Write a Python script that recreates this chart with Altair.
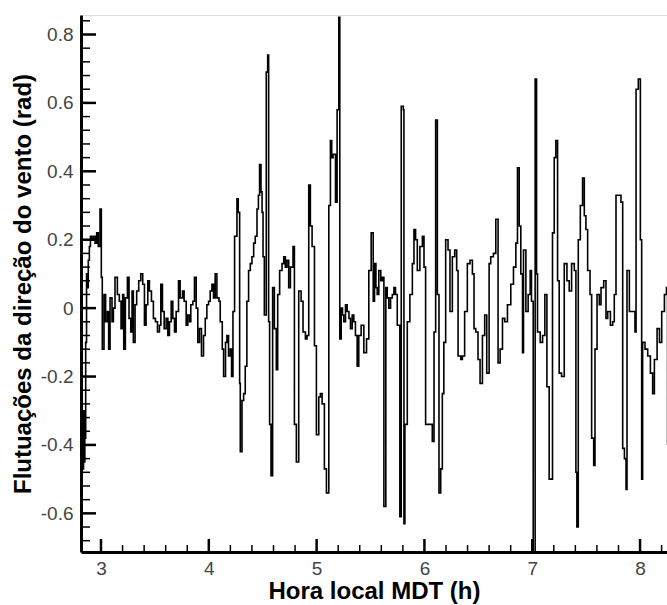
import altair as alt
import pandas as pd

# Time (local hour, MDT)
hora = [
    2.815, 2.820, 2.826, 2.832, 2.838, 2.844, 2.850, 2.858, 2.866, 2.874,
    2.882, 2.892, 2.902, 2.913, 2.929, 2.945, 2.960, 2.975, 2.991, 3.003,
    3.012, 3.028, 3.043, 3.059, 3.071, 3.084, 3.102, 3.115, 3.130, 3.152,
    3.170, 3.186, 3.201, 3.211, 3.226, 3.245, 3.260, 3.276, 3.288, 3.300,
    3.316, 3.331, 3.350, 3.369, 3.387, 3.403, 3.418, 3.434, 3.449, 3.468,
    3.486, 3.505, 3.524, 3.542, 3.555, 3.570, 3.586, 3.604, 3.620, 3.635,
    3.651, 3.666, 3.682, 3.697, 3.719, 3.734, 3.756, 3.771, 3.790, 3.805,
    3.821, 3.833, 3.852, 3.867, 3.883, 3.898, 3.914, 3.932, 3.951, 3.967,
    3.982, 3.998, 4.013, 4.029, 4.044, 4.059, 4.075, 4.094, 4.106, 4.125,
    4.137, 4.155, 4.168, 4.183, 4.199, 4.211, 4.224, 4.239, 4.261, 4.273,
    4.286, 4.292, 4.308, 4.323, 4.338, 4.353, 4.369, 4.385, 4.400, 4.416,
    4.431, 4.447, 4.460, 4.471, 4.484, 4.494, 4.503, 4.515, 4.533, 4.546,
    4.555, 4.564, 4.577, 4.592, 4.608, 4.626, 4.639, 4.657, 4.679, 4.695,
    4.710, 4.725, 4.741, 4.757, 4.781, 4.794, 4.812, 4.834, 4.856, 4.874,
    4.896, 4.911, 4.927, 4.942, 4.958, 4.980, 4.998, 5.020, 5.035, 5.051,
    5.072, 5.091, 5.113, 5.128, 5.140, 5.153, 5.175, 5.190, 5.206, 5.215,
    5.228, 5.240, 5.252, 5.268, 5.283, 5.300, 5.314, 5.330, 5.345, 5.360,
    5.376, 5.391, 5.413, 5.438, 5.463, 5.484, 5.506, 5.525, 5.537, 5.550,
    5.562, 5.577, 5.595, 5.609, 5.624, 5.642, 5.655, 5.670, 5.686, 5.702,
    5.717, 5.732, 5.748, 5.772, 5.785, 5.804, 5.810, 5.819, 5.841, 5.865,
    5.888, 5.903, 5.918, 5.934, 5.958, 5.981, 5.996, 6.011, 6.042, 6.073,
    6.089, 6.104, 6.120, 6.135, 6.151, 6.166, 6.180, 6.197, 6.219, 6.237,
    6.259, 6.281, 6.299, 6.312, 6.337, 6.352, 6.373, 6.398, 6.423, 6.445,
    6.460, 6.476, 6.497, 6.516, 6.538, 6.559, 6.578, 6.600, 6.615, 6.640,
    6.662, 6.683, 6.702, 6.724, 6.745, 6.770, 6.801, 6.826, 6.848, 6.863,
    6.879, 6.894, 6.910, 6.919, 6.941, 6.962, 6.981, 6.993, 7.009, 7.027,
    7.040, 7.049, 7.074, 7.096, 7.117, 7.136, 7.157, 7.173, 7.188, 7.204,
    7.219, 7.235, 7.250, 7.272, 7.297, 7.322, 7.343, 7.365, 7.390, 7.405,
    7.414, 7.427, 7.446, 7.467, 7.483, 7.498, 7.514, 7.536, 7.551, 7.570,
    7.582, 7.601, 7.622, 7.638, 7.663, 7.684, 7.700, 7.725, 7.746, 7.761,
    7.777, 7.799, 7.823, 7.839, 7.855, 7.870, 7.879, 7.901, 7.932, 7.953,
    7.963, 7.984, 8.003, 8.015, 8.024, 8.046, 8.071, 8.096, 8.117, 8.133,
    8.158, 8.180, 8.201, 8.226, 8.245, 8.255,
]

# Wind direction fluctuations (rad)
flutuacao = [
    0.24, -0.10, -0.35, -0.47, -0.30, -0.45, -0.38, -0.10, 0.10, 0.06,
    0.14, 0.18, 0.21, 0.20, 0.21, 0.19, 0.22, 0.18, 0.29, 0.09,
    -0.12, 0.04, -0.04, -0.01, -0.12, 0.03, -0.04, 0.00, 0.09, 0.04,
    0.02, -0.06, 0.04, -0.12, 0.03, 0.09, -0.03, -0.07, 0.05, -0.10,
    0.01, 0.05, 0.08, 0.10, 0.07, -0.05, 0.01, 0.08, 0.05, 0.02,
    -0.03, -0.04, -0.07, -0.05, 0.07, -0.01, -0.06, -0.03, -0.08, -0.04,
    0.02, -0.03, -0.07, -0.01, 0.08, 0.03, 0.05, 0.02, -0.05, -0.02,
    -0.04, 0.01, 0.02, 0.09, 0.00, -0.10, -0.06, -0.14, -0.08, -0.03,
    0.01, 0.02, 0.05, 0.07, 0.03, 0.10, 0.03, 0.02, -0.04, -0.12,
    -0.20, -0.10, -0.08, -0.14, -0.12, -0.20, -0.01, 0.21, 0.32, 0.28,
    -0.22, -0.42, -0.27, -0.25, -0.17, 0.02, 0.11, 0.13, 0.15, 0.19,
    0.21, 0.29, 0.33, 0.42, 0.34, 0.28, 0.15, -0.02, 0.69, 0.74,
    -0.04, -0.34, -0.49, 0.06, -0.06, -0.18, 0.04, 0.11, 0.13, 0.15,
    0.12, 0.14, 0.06, 0.12, 0.18, -0.34, -0.45, 0.05, 0.02, -0.07,
    -0.09, -0.08, 0.36, 0.24, 0.18, -0.11, -0.37, -0.26, -0.25, -0.28,
    -0.47, -0.54, 0.30, 0.49, 0.44, 0.45, 0.31, 0.58, 0.85, -0.09,
    0.00, -0.02, -0.04, 0.01, -0.01, -0.03, -0.06, -0.02, -0.04, -0.08,
    -0.17, -0.08, -0.05, -0.13, -0.09, 0.11, 0.22, 0.02, 0.13, 0.06,
    0.04, 0.11, 0.08, 0.09, -0.58, 0.06, 0.03, 0.00, 0.03, 0.04,
    0.06, 0.04, -0.05, -0.61, 0.59, 0.58, -0.63, -0.34, -0.04, 0.04,
    0.13, 0.23, 0.20, 0.11, 0.18, 0.21, 0.12, -0.34, -0.34, -0.39,
    -0.07, 0.55, 0.04, -0.54, -0.47, -0.25, -0.10, 0.20, 0.17, -0.01,
    0.15, 0.17, 0.11, -0.14, -0.15, -0.14, -0.01, 0.13, 0.14, 0.10,
    -0.06, -0.07, -0.15, -0.22, -0.08, -0.02, -0.19, 0.13, 0.15, 0.16,
    0.26, -0.16, -0.12, -0.03, -0.04, 0.01, 0.07, 0.12, 0.19, 0.41,
    0.24, 0.10, -0.13, 0.17, -0.01, 0.04, 0.11, 0.02, -0.72, 0.67,
    0.10, -0.07, -0.10, -0.08, 0.04, -0.23, -0.50, -0.50, 0.22, 0.44,
    0.49, 0.08, -0.19, -0.20, 0.13, 0.08, 0.05, 0.13, 0.11, -0.48,
    -0.64, 0.20, 0.30, 0.38, 0.27, 0.23, 0.11, 0.04, -0.38, -0.46,
    -0.12, 0.04, 0.01, 0.06, 0.08, -0.03, -0.01, -0.05, -0.04, 0.04,
    0.33, 0.33, 0.31, -0.41, -0.44, -0.53, 0.11, -0.01, -0.01, -0.07,
    0.64, 0.67, 0.20, -0.50, -0.10, -0.12, -0.14, -0.19, -0.25, -0.15,
    -0.06, -0.10, -0.01, 0.04, 0.06, -0.40,
]

x_major = [3, 4, 5, 6, 7, 8]
x_minor = [3.2, 3.4, 3.6, 3.8, 4.2, 4.4, 4.6, 4.8, 5.2, 5.4, 5.6, 5.8,
           6.2, 6.4, 6.6, 6.8, 7.2, 7.4, 7.6, 7.8, 8.2]
y_major = [-0.6, -0.4, -0.2, 0.0, 0.2, 0.4, 0.6, 0.8]
y_minor = [-0.68, -0.64, -0.56, -0.52, -0.48, -0.44, -0.36, -0.32, -0.28,
           -0.24, -0.16, -0.12, -0.08, -0.04, 0.04, 0.08, 0.12, 0.16, 0.24,
           0.28, 0.32, 0.36, 0.44, 0.48, 0.52, 0.56, 0.64, 0.68, 0.72, 0.76,
           0.84]

W, H = 586, 537
FONT = "Liberation Sans"

df = pd.DataFrame({"hora": hora, "flut": flutuacao})
xs = alt.Scale(domain=[2.8145, 8.25], nice=False, zero=False)
ys = alt.Scale(domain=[-0.713, 0.857], nice=False, zero=False)

x_axis = alt.Axis(
    values=x_major, ticks=False, grid=False, domainColor="black", domainWidth=3,
    labelFont=FONT, labelFontSize=19, labelColor="#444444", labelPadding=7,
    labelExpr="format(datum.value, 'd')",
    title="Hora local MDT (h)", titleFont=FONT, titleFontSize=24,
    titleFontWeight="bold", titleColor="black", titleX=W / 2, titleY=46,
    titleBaseline="alphabetic", titleAlign="center",
)
y_axis = alt.Axis(
    values=y_major, ticks=False, grid=False, domainColor="black", domainWidth=3,
    labelFont=FONT, labelFontSize=19, labelColor="#444444", labelPadding=8,
    labelExpr="abs(datum.value) < 1e-9 ? '0' : (datum.value < 0 ? '-' + format(-datum.value, '.1f') : format(datum.value, '.1f'))",
    title="Flutuações da direção do vento (rad)", titleFont=FONT,
    titleFontSize=24, titleFontWeight="bold", titleColor="black",
    titleX=-51, titleY=H / 2, titleAngle=-90, titleBaseline="alphabetic",
    titleAlign="center",
)

line = alt.Chart(df).mark_line(
    color="black", strokeWidth=1.6, interpolate="step-after", clip=True
).encode(
    x=alt.X("hora:Q", scale=xs, axis=x_axis),
    y=alt.Y("flut:Q", scale=ys, axis=y_axis),
)

def xticks(vals, length, width):
    return alt.Chart(pd.DataFrame({"v": vals})).mark_rule(
        color="black", strokeWidth=width
    ).encode(
        x=alt.X("v:Q", scale=xs, axis=x_axis),
        y=alt.value(H), y2=alt.value(H - length),
    )

def yticks(vals, length, width):
    return alt.Chart(pd.DataFrame({"v": vals})).mark_rule(
        color="black", strokeWidth=width
    ).encode(
        y=alt.Y("v:Q", scale=ys, axis=y_axis),
        x=alt.value(0), x2=alt.value(length),
    )

chart = alt.layer(
    line,
    xticks(x_major, 13, 2.5), xticks(x_minor, 7, 1.5),
    yticks(y_major, 15, 2.5), yticks(y_minor, 9, 1.5),
).properties(
    width=W, height=H,
    autosize=alt.AutoSizeParams(type="none"),
    padding={"left": 81, "top": 15, "right": 0, "bottom": 53},
).configure_view(strokeWidth=0).configure(background="white")

chart.save("out.html", embed_options={"renderer": "svg", "actions": False})
